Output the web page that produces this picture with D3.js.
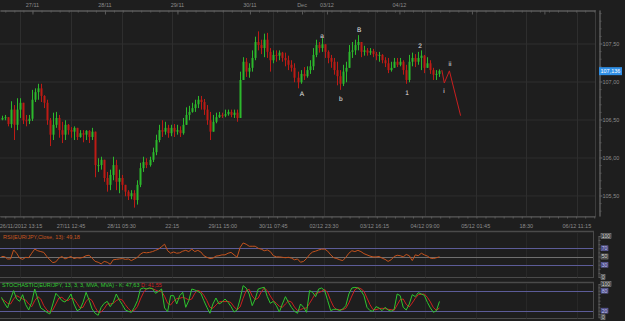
<!DOCTYPE html>
<html>
<head>
<meta charset="utf-8">
<script src="https://cdn.jsdelivr.net/npm/d3@7"></script>
<style>
  body { margin: 0; background: #1e1e1e; overflow: hidden; }
  svg { display: block; font-family: "Liberation Sans", Arial, sans-serif; }
</style>
</head>
<body>
<div id="chart"></div>
<script>
// hourly EUR/JPY bars, hour 0 = 26/11 13:15 (weekend collapsed)
const firstOpen = 106.50;
const closes = [
  106.52,106.53,106.44,106.63,106.43,106.63,106.72,106.49,106.48,106.51,
  106.76,106.86,106.91,106.81,106.72,106.49,106.30,106.43,106.52,106.36,
  106.30,106.43,106.36,106.34,106.39,106.27,106.32,106.30,106.35,106.27,
  106.34,105.90,105.90,105.97,105.73,105.64,105.77,105.90,105.68,105.73,
  105.64,105.55,105.49,105.53,105.44,105.64,105.86,105.94,105.90,105.97,
  106.07,106.23,106.36,106.34,106.39,106.32,106.39,106.34,106.36,106.32,
  106.43,106.56,106.60,106.65,106.70,106.76,106.73,106.63,106.49,106.34,
  106.47,106.53,106.56,106.55,106.57,106.60,106.56,106.59,106.52,107.02,
  107.26,107.13,107.18,107.31,107.52,107.48,107.44,107.55,107.39,107.28,
  107.35,107.34,107.38,107.31,107.28,107.22,107.18,107.05,106.99,107.10,
  107.07,107.15,107.20,107.35,107.48,107.44,107.49,107.39,107.31,107.26,
  107.15,107.07,106.97,107.13,107.18,107.39,107.41,107.48,107.52,107.39,
  107.41,107.38,107.40,107.36,107.34,107.35,107.28,107.24,107.15,107.18,
  107.26,107.22,107.26,107.15,107.02,107.26,107.31,107.26,107.31,107.34,
  107.18,107.24,107.15,107.09,107.10,107.14
];
const highs = [
  106.55,106.56,106.53,106.74,106.69,106.78,106.78,106.69,106.56,106.56,
  106.89,106.91,106.97,106.97,106.82,106.76,106.52,106.59,106.60,106.56,
  106.47,106.49,106.44,106.40,106.41,106.39,106.36,106.36,106.36,106.36,
  106.39,106.34,105.99,106.01,105.97,105.81,105.84,106.01,105.97,105.84,
  105.77,105.64,105.57,105.57,105.57,105.70,105.93,106.01,105.99,106.01,
  106.13,106.30,106.43,106.49,106.47,106.43,106.43,106.44,106.43,106.41,
  106.52,106.66,106.68,106.72,106.76,106.81,106.81,106.77,106.69,106.60,
  106.56,106.59,106.60,106.59,106.63,106.63,106.63,106.63,106.63,107.13,
  107.32,107.31,107.24,107.41,107.59,107.66,107.55,107.63,107.64,107.44,
  107.41,107.41,107.41,107.39,107.38,107.34,107.28,107.24,107.13,107.15,
  107.19,107.20,107.28,107.44,107.55,107.52,107.57,107.48,107.41,107.35,
  107.31,107.26,107.15,107.22,107.26,107.48,107.52,107.55,107.61,107.52,
  107.47,107.44,107.44,107.43,107.39,107.39,107.36,107.32,107.31,107.26,
  107.31,107.31,107.31,107.28,107.22,107.35,107.38,107.36,107.39,107.41,
  107.35,107.32,107.28,107.18,107.15,107.16
];
const lows = [
  106.49,106.49,106.41,106.39,106.23,106.36,106.52,106.44,106.41,106.44,
  106.48,106.73,106.76,106.73,106.65,106.43,106.15,106.23,106.39,106.26,
  106.19,106.23,106.30,106.26,106.23,106.23,106.26,106.20,106.23,106.19,
  106.23,105.74,105.81,105.84,105.68,105.55,105.57,105.70,105.57,105.53,
  105.57,105.49,105.44,105.45,105.34,105.38,105.61,105.81,105.86,105.88,
  105.94,106.03,106.20,106.27,106.30,106.26,106.28,106.27,106.30,106.27,
  106.30,106.47,106.49,106.59,106.60,106.65,106.63,106.56,106.43,106.23,
  106.36,106.45,106.52,106.52,106.53,106.55,106.53,106.52,106.47,106.57,
  107.02,107.06,107.05,107.13,107.28,107.41,107.36,107.32,107.31,107.13,
  107.24,107.26,107.28,107.26,107.20,107.15,107.13,106.99,106.91,106.97,
  107.02,107.05,107.10,107.15,107.32,107.38,107.39,107.31,107.24,107.18,
  107.09,106.95,106.89,106.94,106.99,107.18,107.31,107.35,107.41,107.32,
  107.34,107.34,107.35,107.32,107.28,107.26,107.24,107.19,107.11,107.13,
  107.18,107.19,107.20,107.09,106.97,106.99,107.20,107.19,107.22,107.15,
  107.11,107.18,107.10,107.02,107.02,107.06
];
const lastPrice = 107.136;

const rsiValues = [
  50,50,44,44,66,58,46,43,48,47, 58,68,64,62,60,50,42,35,37,46,
  50,44,47,50,45,47,46,48,52,53, 46,38,36,32,38,36,31,42,43,44,
  45,43,44,40,44,48,56,60,59,60, 62,65,68,74,80,64,58,61,58,59,
  63,65,62,68,62,65,61,52,48,45, 46,51,52,54,54,58,60,54,48,72,
  83,80,75,75,75,70,68,64,66,62, 52,49,49,48,47,48,46,42,44,36,
  38,45,55,61,63,66,68,68,63,54, 47,45,42,40,48,58,64,62,65,62,
  57,54,51,49,49,50,46,43,38,42, 50,53,52,49,55,52,40,54,52,58,
  54,51,46,45,47,49.18
];
const stochK = [
  60,42,28,55,80,55,48,68,38,22, 45,85,55,28,22,15,10,40,72,62,
  50,46,55,70,40,20,24,45,75,52, 25,12,6,30,42,48,32,45,70,52,
  38,22,18,15,30,50,85,88,85,88, 86,72,78,85,28,17,65,65,40,65,
  75,30,50,85,82,78,72,50,30,12, 40,58,40,45,55,45,32,16,22,55,
  95,88,70,35,55,85,88,90,62,42, 48,35,16,40,62,45,30,18,12,40,
  30,15,80,75,62,85,88,80,50,20, 24,24,20,25,35,70,88,90,88,80,
  65,30,20,18,32,28,20,30,22,18, 24,70,65,30,22,40,68,62,74,70,
  66,45,28,15,20,47.63
];
const stochD = [
  55,50,42,40,55,65,60,55,52,40, 32,50,62,55,35,22,15,22,40,58,
  60,52,50,57,55,42,28,30,48,57, 50,30,15,16,26,40,40,42,50,55,
  52,38,26,18,21,32,55,74,86,87, 86,82,78,78,63,42,37,49,56,57,
  60,57,52,55,72,81,77,66,50,30, 27,37,46,48,47,48,44,31,23,31,
  57,80,84,64,53,58,76,88,80,64, 50,42,33,30,40,49,46,31,20,23,
  27,28,42,57,72,74,78,84,73,50, 31,23,23,23,27,43,64,83,89,86,
  78,58,38,23,23,26,27,26,24,23, 21,37,53,55,39,31,43,57,68,69,
  70,60,46,29,21,28
];

// projected wave path [hour, price] and wave count labels
const projection = [[146.3, 107.15], [147.1, 106.98], [148.8, 107.14], [152.5, 106.55]];
const waveLabels = [
  { t: "A",  h: 100.0, p: 106.84 },
  { t: "a",  h: 106.6, p: 107.61 },
  { t: "b",  h: 112.8, p: 106.78 },
  { t: "B",  h: 118.9, p: 107.69 },
  { t: "1",  h: 134.8, p: 106.86 },
  { t: "2",  h: 139.1, p: 107.48 },
  { t: "i",  h: 147.0, p: 106.88 },
  { t: "ii", h: 149.0, p: 107.24 }
];

// axes
const dayTickHours = [10.75, 34.75, 58.75, 82.75, 100, 108.25, 132.25, 156.25, 180.25];
const dayTickLabels = ["27/11", "28/11", "29/11", "30/11", "Dec", "03/12", "04/12", "", ""];
const timeTickHours = [6.75, 23.5, 40.25, 57, 73.75, 90.5, 107.25, 124, 140.75, 157.5, 174.25, 191];
const timeTickLabels = ["26/11/2012 13:15", "27/11 12:45", "28/11 05:30", "22:15", "29/11 15:00",
  "30/11 07:45", "02/12 23:30", "03/12 16:15", "04/12 09:00", "05/12 01:45", "18:30", "06/12 11:15"];
const priceTicks = [105.5, 106.0, 106.5, 107.0, 107.5];
const rsiLevels = [100, 70, 50, 30, 0];
const stochLevels = [100, 80, 20, 0];

const W = 625, H = 321;
const plotRight = 595;
const fmt = d => d3.format(".2f")(d).replace(".", ",");

const svg = d3.select("#chart").append("svg").attr("width", W).attr("height", H);
svg.append("rect").attr("width", W).attr("height", H).attr("fill", "#1e1e1e");

const x = d3.scaleLinear().domain([0, 197]).range([0, plotRight]);
const yPrice = d3.scaleLinear().domain([105.23, 107.941]).range([216, 10]);
const yRsi = d3.scaleLinear().domain([0, 100]).range([277, 236]);
const yStoch = d3.scaleLinear().domain([0, 100]).range([317.3, 284]);

const gridColor = "#2e2e2e";
const textColor = "#8c8c8c";

// ---- main price panel ----
const grid = svg.append("g");
grid.selectAll(".hg").data(priceTicks).enter().append("line")
  .attr("x1", 0).attr("x2", plotRight)
  .attr("y1", d => yPrice(d) + 0.5).attr("y2", d => yPrice(d) + 0.5)
  .attr("stroke", gridColor);
grid.selectAll(".vg").data(timeTickHours).enter().append("line")
  .attr("x1", d => Math.round(x(d)) + 0.5).attr("x2", d => Math.round(x(d)) + 0.5)
  .attr("y1", 10).attr("y2", 216)
  .attr("stroke", gridColor);

svg.append("line").attr("x1", 0).attr("x2", plotRight).attr("y1", 216.5).attr("y2", 216.5).attr("stroke", "#3c3c3c");
svg.append("line").attr("x1", plotRight + 0.5).attr("x2", plotRight + 0.5).attr("y1", 10).attr("y2", 217).attr("stroke", "#3c3c3c");

// top axis
function styleAxis(g) {
  g.select(".domain").attr("stroke", "#5a5a5a");
  g.selectAll(".tick line").attr("stroke", "#5a5a5a");
}
svg.append("g").attr("transform", "translate(0,10.5)")
  .call(d3.axisBottom(x).tickValues(d3.range(1.75, 197, 3)).tickSize(2).tickFormat("").tickSizeOuter(0))
  .call(styleAxis);
svg.append("g").attr("transform", "translate(0,10.5)")
  .call(d3.axisBottom(x).tickValues(dayTickHours).tickSize(4).tickFormat("").tickSizeOuter(0))
  .call(styleAxis);
svg.append("g").selectAll("text").data(dayTickHours).enter().append("text")
  .attr("x", d => x(d)).attr("y", 7)
  .attr("text-anchor", "middle").attr("font-size", 5.5).attr("fill", textColor)
  .text((d, i) => dayTickLabels[i]);

// bottom time axis
svg.append("g").attr("transform", "translate(0,216.5)")
  .call(d3.axisBottom(x).tickValues(d3.range(1.75, 197, 3)).tickSize(2).tickFormat("").tickSizeOuter(0))
  .call(styleAxis);
svg.append("g").selectAll("text").data(timeTickHours).enter().append("text")
  .attr("x", d => Math.max(x(d), 21)).attr("y", 228)
  .attr("text-anchor", "middle").attr("font-size", 5.5).attr("fill", textColor)
  .text((d, i) => timeTickLabels[i]);

// right price axis
svg.append("g").attr("transform", "translate(599.5,0)")
  .call(d3.axisRight(yPrice).tickValues(d3.range(105.3, 107.95, 0.1)).tickSize(2).tickFormat("").tickSizeOuter(0))
  .call(styleAxis);
const pAxis = svg.append("g").attr("transform", "translate(599.5,0)")
  .call(d3.axisRight(yPrice).tickValues(priceTicks).tickSize(3).tickFormat(fmt).tickSizeOuter(0))
  .call(styleAxis);
pAxis.selectAll("text").attr("font-size", 5.5).attr("fill", textColor)
  .attr("font-family", "Liberation Sans, Arial, sans-serif").attr("x", 3);

// candles
const bars = closes.map((c, i) => {
  const o = i ? closes[i - 1] : firstOpen;
  return { h: i, o: o, c: c, hi: Math.max(highs[i], o, c), lo: Math.min(lows[i], o, c) };
});
const up = "#2cb82c", down = "#bd1b15";
const candle = svg.append("g").selectAll("g").data(bars).enter().append("g");
candle.append("line")
  .attr("x1", d => Math.round(x(d.h + 0.5)) + 0.5).attr("x2", d => Math.round(x(d.h + 0.5)) + 0.5)
  .attr("y1", d => yPrice(d.hi)).attr("y2", d => yPrice(d.lo))
  .attr("stroke", d => d.c >= d.o ? up : down);
candle.append("rect")
  .attr("x", d => Math.round(x(d.h + 0.5)) - 0.5).attr("width", 2)
  .attr("y", d => yPrice(Math.max(d.o, d.c)))
  .attr("height", d => Math.max(1, Math.abs(yPrice(d.o) - yPrice(d.c))))
  .attr("fill", d => d.c >= d.o ? up : down);

// projected path
svg.append("path").datum(projection)
  .attr("d", d3.line().x(d => x(d[0])).y(d => yPrice(d[1])))
  .attr("fill", "none").attr("stroke", "#c81e1e").attr("stroke-width", 1);

svg.append("g").selectAll("text").data(waveLabels).enter().append("text")
  .attr("x", d => x(d.h)).attr("y", d => yPrice(d.p) + 2.5)
  .attr("text-anchor", "middle").attr("font-size", 6.5).attr("fill", "#e4e4e4")
  .style("text-rendering", "geometricPrecision")
  .text(d => d.t);

// last price tag
svg.append("rect").attr("x", 599).attr("y", yPrice(lastPrice) - 4).attr("width", 23).attr("height", 8)
  .attr("fill", "#2f8fe6");
svg.append("text").attr("x", 600.5).attr("y", yPrice(lastPrice) + 2)
  .attr("font-size", 5.5).attr("fill", "#ffffff")
  .text(d3.format(".3f")(lastPrice).replace(".", ","));

// ---- indicator panels ----
const panelRight = 593;
const purple = "#5c5c98";
function panel(yScale, top, bottom, levels) {
  const g = svg.append("g");
  g.append("line").attr("x1", 0).attr("x2", panelRight + 1).attr("y1", top).attr("y2", top)
    .attr("stroke", "#4a4a4a").attr("stroke-width", 1.5);
  g.append("line").attr("x1", 0).attr("x2", panelRight + 1).attr("y1", bottom).attr("y2", bottom)
    .attr("stroke", "#4a4a4a").attr("stroke-width", 1);
  g.append("line").attr("x1", panelRight + 0.5).attr("x2", panelRight + 0.5).attr("y1", top).attr("y2", bottom)
    .attr("stroke", "#4a4a4a");
  g.selectAll(".vg").data(timeTickHours).enter().append("line")
    .attr("x1", d => Math.round(x(d)) + 0.5).attr("x2", d => Math.round(x(d)) + 0.5)
    .attr("y1", top + 1).attr("y2", bottom)
    .attr("stroke", "#282828");
  g.selectAll(".lv").data(levels.filter(v => v > 0 && v < 100)).enter().append("line")
    .attr("x1", 0).attr("x2", panelRight)
    .attr("y1", d => Math.round(yScale(d)) + 0.5).attr("y2", d => Math.round(yScale(d)) + 0.5)
    .attr("stroke", d => d === 50 ? "#707070" : purple);
  g.append("g").attr("transform", "translate(598.5,0)")
    .call(d3.axisRight(yScale).tickValues(d3.range(0, 101, 10)).tickSize(2).tickFormat("").tickSizeOuter(0))
    .call(styleAxis);
  const lab = g.selectAll(".lab").data(levels).enter().append("g")
    .attr("transform", d => "translate(601," + yScale(d) + ")");
  lab.append("rect")
    .attr("x", 0).attr("y", -2.5)
    .attr("width", d => d === 100 ? 10 : d === 0 ? 4 : 7).attr("height", 5)
    .attr("fill", d => (d === 100 || d === 50 || d === 0) ? "#3a3a3a" : "#44447a")
    .attr("stroke", d => (d === 100 || d === 50 || d === 0) ? "#9a9a9a" : "#7070b4")
    .attr("stroke-width", 0.5);
  lab.append("text").attr("x", 0.8).attr("y", 1.9)
    .attr("font-size", 5).attr("fill", d => (d === 100 || d === 50 || d === 0) ? "#dddddd" : "#c8c8f2")
    .text(d => d);
  return g;
}

// RSI
panel(yRsi, 231.5, 277.5, rsiLevels);
svg.append("path").datum(rsiValues)
  .attr("d", d3.line().x((d, i) => x(i + 0.5)).y(d => yRsi(d)))
  .attr("fill", "none").attr("stroke", "#c4521c").attr("stroke-width", 1);
svg.append("text").attr("x", 3).attr("y", 239)
  .attr("font-size", 5.5).attr("fill", "#c8561e")
  .text("RSI(EUR/JPY,Close, 13): " + fmt(rsiValues[rsiValues.length - 1]));

// Stochastic
panel(yStoch, 282.5, 318.5, stochLevels);
svg.append("path").datum(stochD)
  .attr("d", d3.line().x((d, i) => x(i + 0.5)).y(d => yStoch(d)))
  .attr("fill", "none").attr("stroke", "#cc2020").attr("stroke-width", 1);
svg.append("path").datum(stochK)
  .attr("d", d3.line().x((d, i) => x(i + 0.5)).y(d => yStoch(d)))
  .attr("fill", "none").attr("stroke", "#2ec42e").attr("stroke-width", 1);
const stLabel = svg.append("text").attr("x", 2).attr("y", 286.5).attr("font-size", 5.5);
stLabel.append("tspan").attr("fill", "#33cc33")
  .text("STOCHASTIC(EUR/JPY, 13, 3, 3, MVA, MVA) - K: " + fmt(stochK[stochK.length - 1]) + " ");
stLabel.append("tspan").attr("fill", "#d02020").text("D: 41,55");
</script>
</body>
</html>
